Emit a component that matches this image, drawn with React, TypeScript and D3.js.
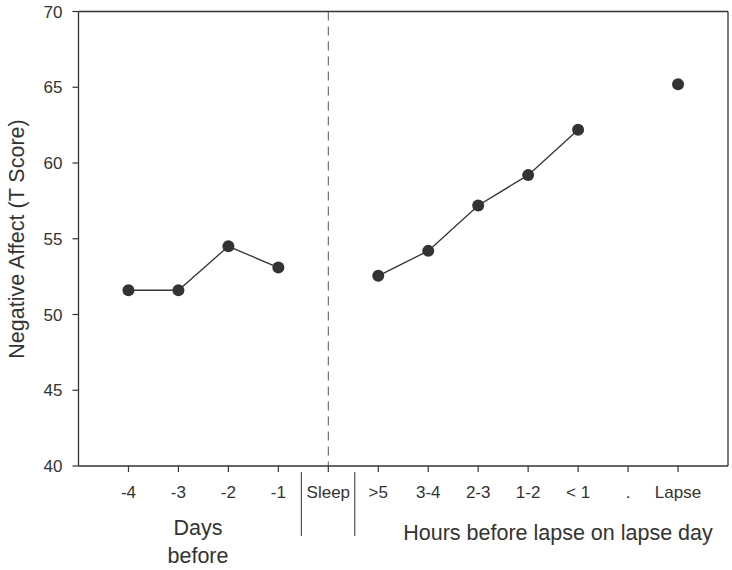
import React from "react";
import * as d3 from "d3";

const tickLabels = ["-4", "-3", "-2", "-1", "Sleep", ">5", "3-4", "2-3", "1-2", "< 1", ".", "Lapse"];
const daysPos = [1, 2, 3, 4];
const daysValues = [51.6, 51.6, 54.5, 53.1];
const hoursPos = [6, 7, 8, 9, 10];
const hoursValues = [52.55, 54.2, 57.2, 59.2, 62.2];
const lapsePos = [12];
const lapseValues = [65.2];
const yTicks = [40, 45, 50, 55, 60, 65, 70];
const sleepPos = 5;

export default function App() {
  const W = 732, H = 570;
  const left = 78.5, right = 728, top = 11.5, bottom = 466;
  const x = d3.scaleLinear().domain([0, 13]).range([left, right]);
  const y = d3.scaleLinear().domain([40, 70]).range([bottom, top]);
  const line = d3.line<[number, number]>().x(d => x(d[0])).y(d => y(d[1]));
  const col = "#333";
  const days: [number, number][] = daysPos.map((p, i) => [p, daysValues[i]]);
  const hours: [number, number][] = hoursPos.map((p, i) => [p, hoursValues[i]]);
  const lapse: [number, number][] = lapsePos.map((p, i) => [p, lapseValues[i]]);
  const font = "Arial, 'Liberation Sans', Helvetica, sans-serif";
  return (
    <svg width={W} height={H} style={{ position: "absolute", left: 0, top: 0, background: "#fff" }} fontFamily={font}>
      {/* frame */}
      <line x1={left} x2={right} y1={top} y2={top} stroke={col} strokeWidth={1.3} />
      <line x1={right} x2={right} y1={top} y2={bottom} stroke={col} strokeWidth={1.3} />
      <line x1={left} x2={left} y1={top} y2={bottom} stroke={col} strokeWidth={1.3} />
      <line x1={left} x2={right} y1={bottom} y2={bottom} stroke={col} strokeWidth={1.3} />
      {/* y ticks */}
      {yTicks.map(t => (
        <g key={t}>
          <line x1={left - 6} x2={left} y1={y(t)} y2={y(t)} stroke={col} strokeWidth={1.2} />
          <text x={left - 16} y={y(t)} dy="0.36em" textAnchor="end" fontSize={17} fill={col}>{t}</text>
        </g>
      ))}
      {/* x ticks */}
      {tickLabels.map((l, i) => (
        <g key={i}>
          <line x1={x(i + 1)} x2={x(i + 1)} y1={bottom} y2={bottom + 6} stroke={col} strokeWidth={1.2} />
          <text x={x(i + 1)} y={492} dy="0.36em" textAnchor="middle" fontSize={17} fill={col}>{l}</text>
        </g>
      ))}
      {/* dashed sleep line */}
      <line x1={x(sleepPos)} x2={x(sleepPos)} y1={top} y2={bottom} stroke="#555" strokeWidth={1} strokeDasharray="9,6" />
      {/* separators */}
      <line x1={x(sleepPos - 0.54)} x2={x(sleepPos - 0.54)} y1={472} y2={536} stroke={col} strokeWidth={1} />
      <line x1={x(sleepPos + 0.53)} x2={x(sleepPos + 0.53)} y1={472} y2={536} stroke={col} strokeWidth={1} />
      {/* group labels */}
      <text x={198} y={527} dy="0.36em" textAnchor="middle" fontSize={21.5} fill={col}>Days</text>
      <text x={198} y={555} dy="0.36em" textAnchor="middle" fontSize={21.5} fill={col}>before</text>
      <text x={558} y={532} dy="0.36em" textAnchor="middle" fontSize={21.5} fill={col}>Hours before lapse on lapse day</text>
      {/* y label */}
      <text transform={`translate(16,239) rotate(-90)`} dy="0.36em" textAnchor="middle" fontSize={21.5} fill={col}>Negative Affect (T Score)</text>
      {/* lines */}
      <path d={line(days) || ""} fill="none" stroke={col} strokeWidth={1.3} />
      <path d={line(hours) || ""} fill="none" stroke={col} strokeWidth={1.3} />
      {/* points */}
      {[...days, ...hours, ...lapse].map((d, i) => (
        <circle key={i} cx={x(d[0])} cy={y(d[1])} r={6} fill={col} />
      ))}
    </svg>
  );
}
